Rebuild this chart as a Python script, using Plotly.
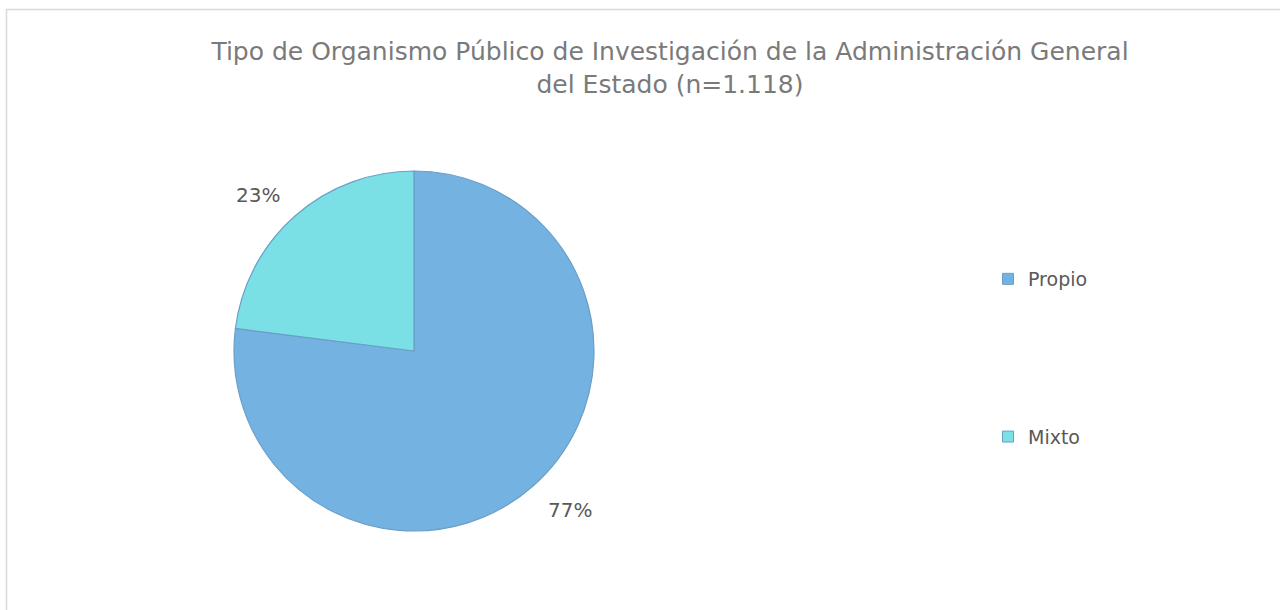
import plotly.graph_objects as go

labels = ["Propio", "Mixto"]
values = [77, 23]
colors = ["#74B2E2", "#7AE0E6"]
title_text = "Tipo de Organismo Público de Investigación de la Administración General<br>del Estado (n=1.118)"

W, H = 1280, 610
cx, cy, r = 414, 351, 180
font = "DejaVu Sans"

fig = go.Figure()
fig.add_trace(
    go.Pie(
        labels=labels,
        values=values,
        sort=False,
        direction="clockwise",
        rotation=0,
        marker=dict(colors=colors, line=dict(color="#6A9FC8", width=1.2)),
        textinfo="none",
        hoverinfo="label+percent",
        showlegend=False,
        domain=dict(x=[(cx - r) / W, (cx + r) / W], y=[(H - cy - r) / H, (H - cy + r) / H]),
    )
)

# legend entries as dummy traces so the spacing can be set
for lab, col in zip(labels, colors):
    fig.add_trace(
        go.Scatter(
            x=[None], y=[None], mode="markers", name=lab, legendgroup=lab,
            marker=dict(symbol="square", size=11, color=col, line=dict(color="#6A9FC8", width=1)),
        )
    )

# percentage labels placed outside the slices, like the original
label_pos = [(570, 510), (258, 195)]
total = sum(values)
for v, (lx, ly) in zip(values, label_pos):
    fig.add_annotation(
        x=lx / W, y=1 - ly / H, xref="paper", yref="paper",
        xanchor="center", yanchor="middle",
        text=f"{round(v / total * 100)}%", showarrow=False,
        font=dict(family=font, size=20, color="#595959"),
    )

# chart frame
fig.add_shape(
    type="rect", xref="paper", yref="paper",
    x0=6.5 / W, x1=1.02, y0=-0.03, y1=1 - 9.5 / H,
    line=dict(color="#D9D9D9", width=1.5),
)

fig.update_layout(
    width=W, height=H,
    margin=dict(l=0, r=0, t=0, b=0),
    paper_bgcolor="white", plot_bgcolor="white",
    title=dict(text=title_text, x=670 / W, xanchor="center", y=1 - 60 / H, yanchor="top",
               font=dict(family=font, size=25, color="#7A7A7A")),
    xaxis=dict(visible=False), yaxis=dict(visible=False),
    legend=dict(x=988 / W, y=1 - 260 / H, xanchor="left", yanchor="top",
                tracegroupgap=130, itemwidth=30,
                font=dict(family=font, size=19, color="#595959")),
)

fig.write_html(
    "out.html",
    config={"displayModeBar": False},
    post_script="document.body.style.margin='0';",
)
